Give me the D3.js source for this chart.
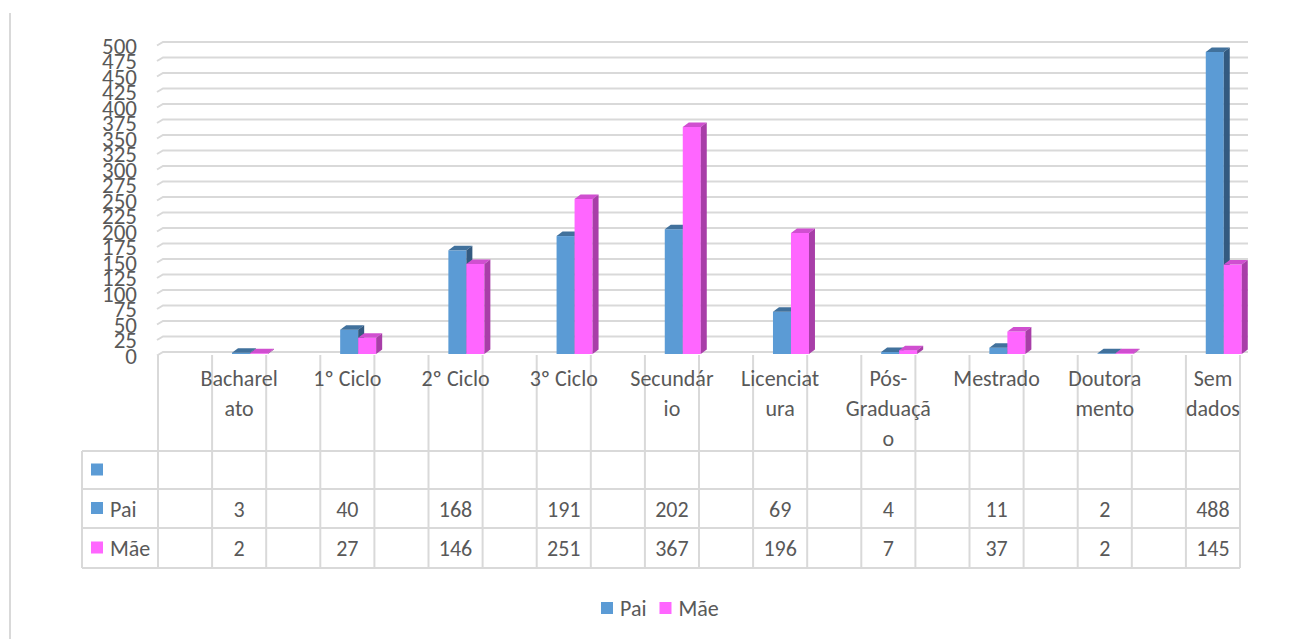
<!DOCTYPE html>
<html>
<head>
<meta charset="utf-8">
<script src="https://cdn.jsdelivr.net/npm/d3@7"></script>
<style>
  body { margin: 0; background: #fff; }
  text { font-family: Calibri, Carlito, Lato, sans-serif; fill: #595959; }
</style>
</head>
<body>
<div id="chart"></div>
<script>
// data
var categories = ["Bacharelato", "1º Ciclo", "2º Ciclo", "3º Ciclo", "Secundário",
  "Licenciatura", "Pós-Graduação", "Mestrado", "Doutoramento", "Sem dados"];
// how the category names are wrapped in the picture
var catLines = [["Bacharel", "ato"], ["1º Ciclo"], ["2º Ciclo"], ["3º Ciclo"], ["Secundár", "io"],
  ["Licenciat", "ura"], ["Pós-", "Graduaçã", "o"], ["Mestrado"], ["Doutora", "mento"], ["Sem", "dados"]];
var pai = [3, 40, 168, 191, 202, 69, 4, 11, 2, 488];
var mae = [2, 27, 146, 251, 367, 196, 7, 37, 2, 145];
var seriesNames = ["", "Pai", "Mãe"];
var yTicks = d3.range(0, 501, 25);

var colors = {
  pai: { front: "#5B9BD5", top: "#41719C", side: "#335A80" },
  mae: { front: "#FF66FF", top: "#D04FD0", side: "#A83EA8" }
};

var W = 1298, H = 639;
var svg = d3.select("#chart").append("svg").attr("width", W).attr("height", H);

var x = d3.scaleBand().domain(categories).range([158, 1240]);
var y = d3.scaleLinear().domain([0, 500]).range([352, 42]);
var bw = x.bandwidth();
var grid = "#D9D9D9";
var fs = 22;

// chart border (only the left edge shows)
svg.append("line").attr("x1", 10).attr("x2", 10).attr("y1", 13).attr("y2", H)
  .attr("stroke", grid).attr("stroke-width", 2);

// back wall gridlines with the little 3D side-wall bend
svg.append("g").selectAll("path").data(yTicks).enter().append("path")
  .attr("d", function (t) {
    var yy = y(t);
    return "M157," + (yy + 3.5) + "L163," + yy + "L1248," + yy;
  })
  .attr("fill", "none").attr("stroke", grid).attr("stroke-width", 2);

// y axis labels
var yAxis = d3.axisLeft(y).tickValues(yTicks).tickSize(0).tickPadding(0);
var ya = svg.append("g").attr("transform", "translate(137,4)").call(yAxis);
ya.select(".domain").remove();
ya.selectAll("text").attr("font-size", 23).attr("fill", "#595959")
  .style("font-family", "Calibri, Carlito, Lato, sans-serif");

// table grid
var tbl = svg.append("g");
var rowY = [451, 489, 528, 568];
rowY.forEach(function (ry) {
  tbl.append("line").attr("x1", 82).attr("x2", 1240).attr("y1", ry).attr("y2", ry)
    .attr("stroke", grid).attr("stroke-width", 2);
});
tbl.append("line").attr("x1", 82).attr("x2", 82).attr("y1", 451).attr("y2", 568)
  .attr("stroke", grid).attr("stroke-width", 2);
var vx = [];
categories.forEach(function (c) { vx.push(x(c), x(c) + bw / 2); });
vx.push(1240);
tbl.selectAll(".v").data(vx).enter().append("line")
  .attr("x1", function (d) { return d; }).attr("x2", function (d) { return d; })
  .attr("y1", 355).attr("y2", 568).attr("stroke", grid).attr("stroke-width", 2);

// bars (3D look)
var dx = 6, dy = -4.5, base = 354, barW = 18;
function yFront(v) { return y(v) + 2.5; }
function drawBar(g, x0, v, col) {
  var x1 = x0 + barW, yt = yFront(v);
  g.append("rect").attr("x", x0).attr("y", yt).attr("width", barW).attr("height", base - yt)
    .attr("fill", col.front);
  g.append("path").attr("d", "M" + x0 + "," + yt + "L" + (x0 + dx) + "," + (yt + dy) +
    "L" + (x1 + dx) + "," + (yt + dy) + "L" + x1 + "," + yt + "Z").attr("fill", col.top);
  g.append("path").attr("d", "M" + x1 + "," + yt + "L" + (x1 + dx) + "," + (yt + dy) +
    "L" + (x1 + dx) + "," + (base + dy) + "L" + x1 + "," + base + "Z").attr("fill", col.side);
}
var bars = svg.append("g");
categories.forEach(function (c, i) {
  var cx = x(c) + bw * 0.85;
  drawBar(bars, cx - barW, pai[i], colors.pai);
  drawBar(bars, cx, mae[i], colors.mae);
});

// category labels
var labels = svg.append("g");
categories.forEach(function (c, i) {
  var t = labels.append("text").attr("x", x(c) + bw * 0.75).attr("text-anchor", "middle")
    .attr("font-size", fs);
  catLines[i].forEach(function (ln, j) {
    t.append("tspan").attr("x", x(c) + bw * 0.75).attr("y", 386 + j * 30).text(ln);
  });
});

// table row headers
var rowKeyColors = [colors.pai.front, colors.pai.front, colors.mae.front];
seriesNames.forEach(function (s, r) {
  var cy = (rowY[r] + rowY[r + 1]) / 2;
  svg.append("rect").attr("x", 91).attr("y", cy - 6.5).attr("width", 12).attr("height", 12)
    .attr("fill", rowKeyColors[r]);
  svg.append("text").attr("x", 110).attr("y", cy + 8).attr("font-size", fs).text(s);
});

// table values
[pai, mae].forEach(function (vals, r) {
  var cy = (rowY[r + 1] + rowY[r + 2]) / 2;
  svg.append("g").selectAll("text").data(vals).enter().append("text")
    .attr("x", function (d, i) { return x(categories[i]) + bw * 0.75; })
    .attr("y", cy + 8).attr("text-anchor", "middle").attr("font-size", fs)
    .text(function (d) { return d; });
});

// legend
var leg = svg.append("g");
var lx = 601;
[["Pai", colors.pai.front], ["Mãe", colors.mae.front]].forEach(function (d) {
  leg.append("rect").attr("x", lx).attr("y", 602).attr("width", 12).attr("height", 12).attr("fill", d[1]);
  var t = leg.append("text").attr("x", lx + 19).attr("y", 616).attr("font-size", fs).text(d[0]);
  lx += 19 + t.node().getComputedTextLength() + 13;
});
</script>
</body>
</html>
